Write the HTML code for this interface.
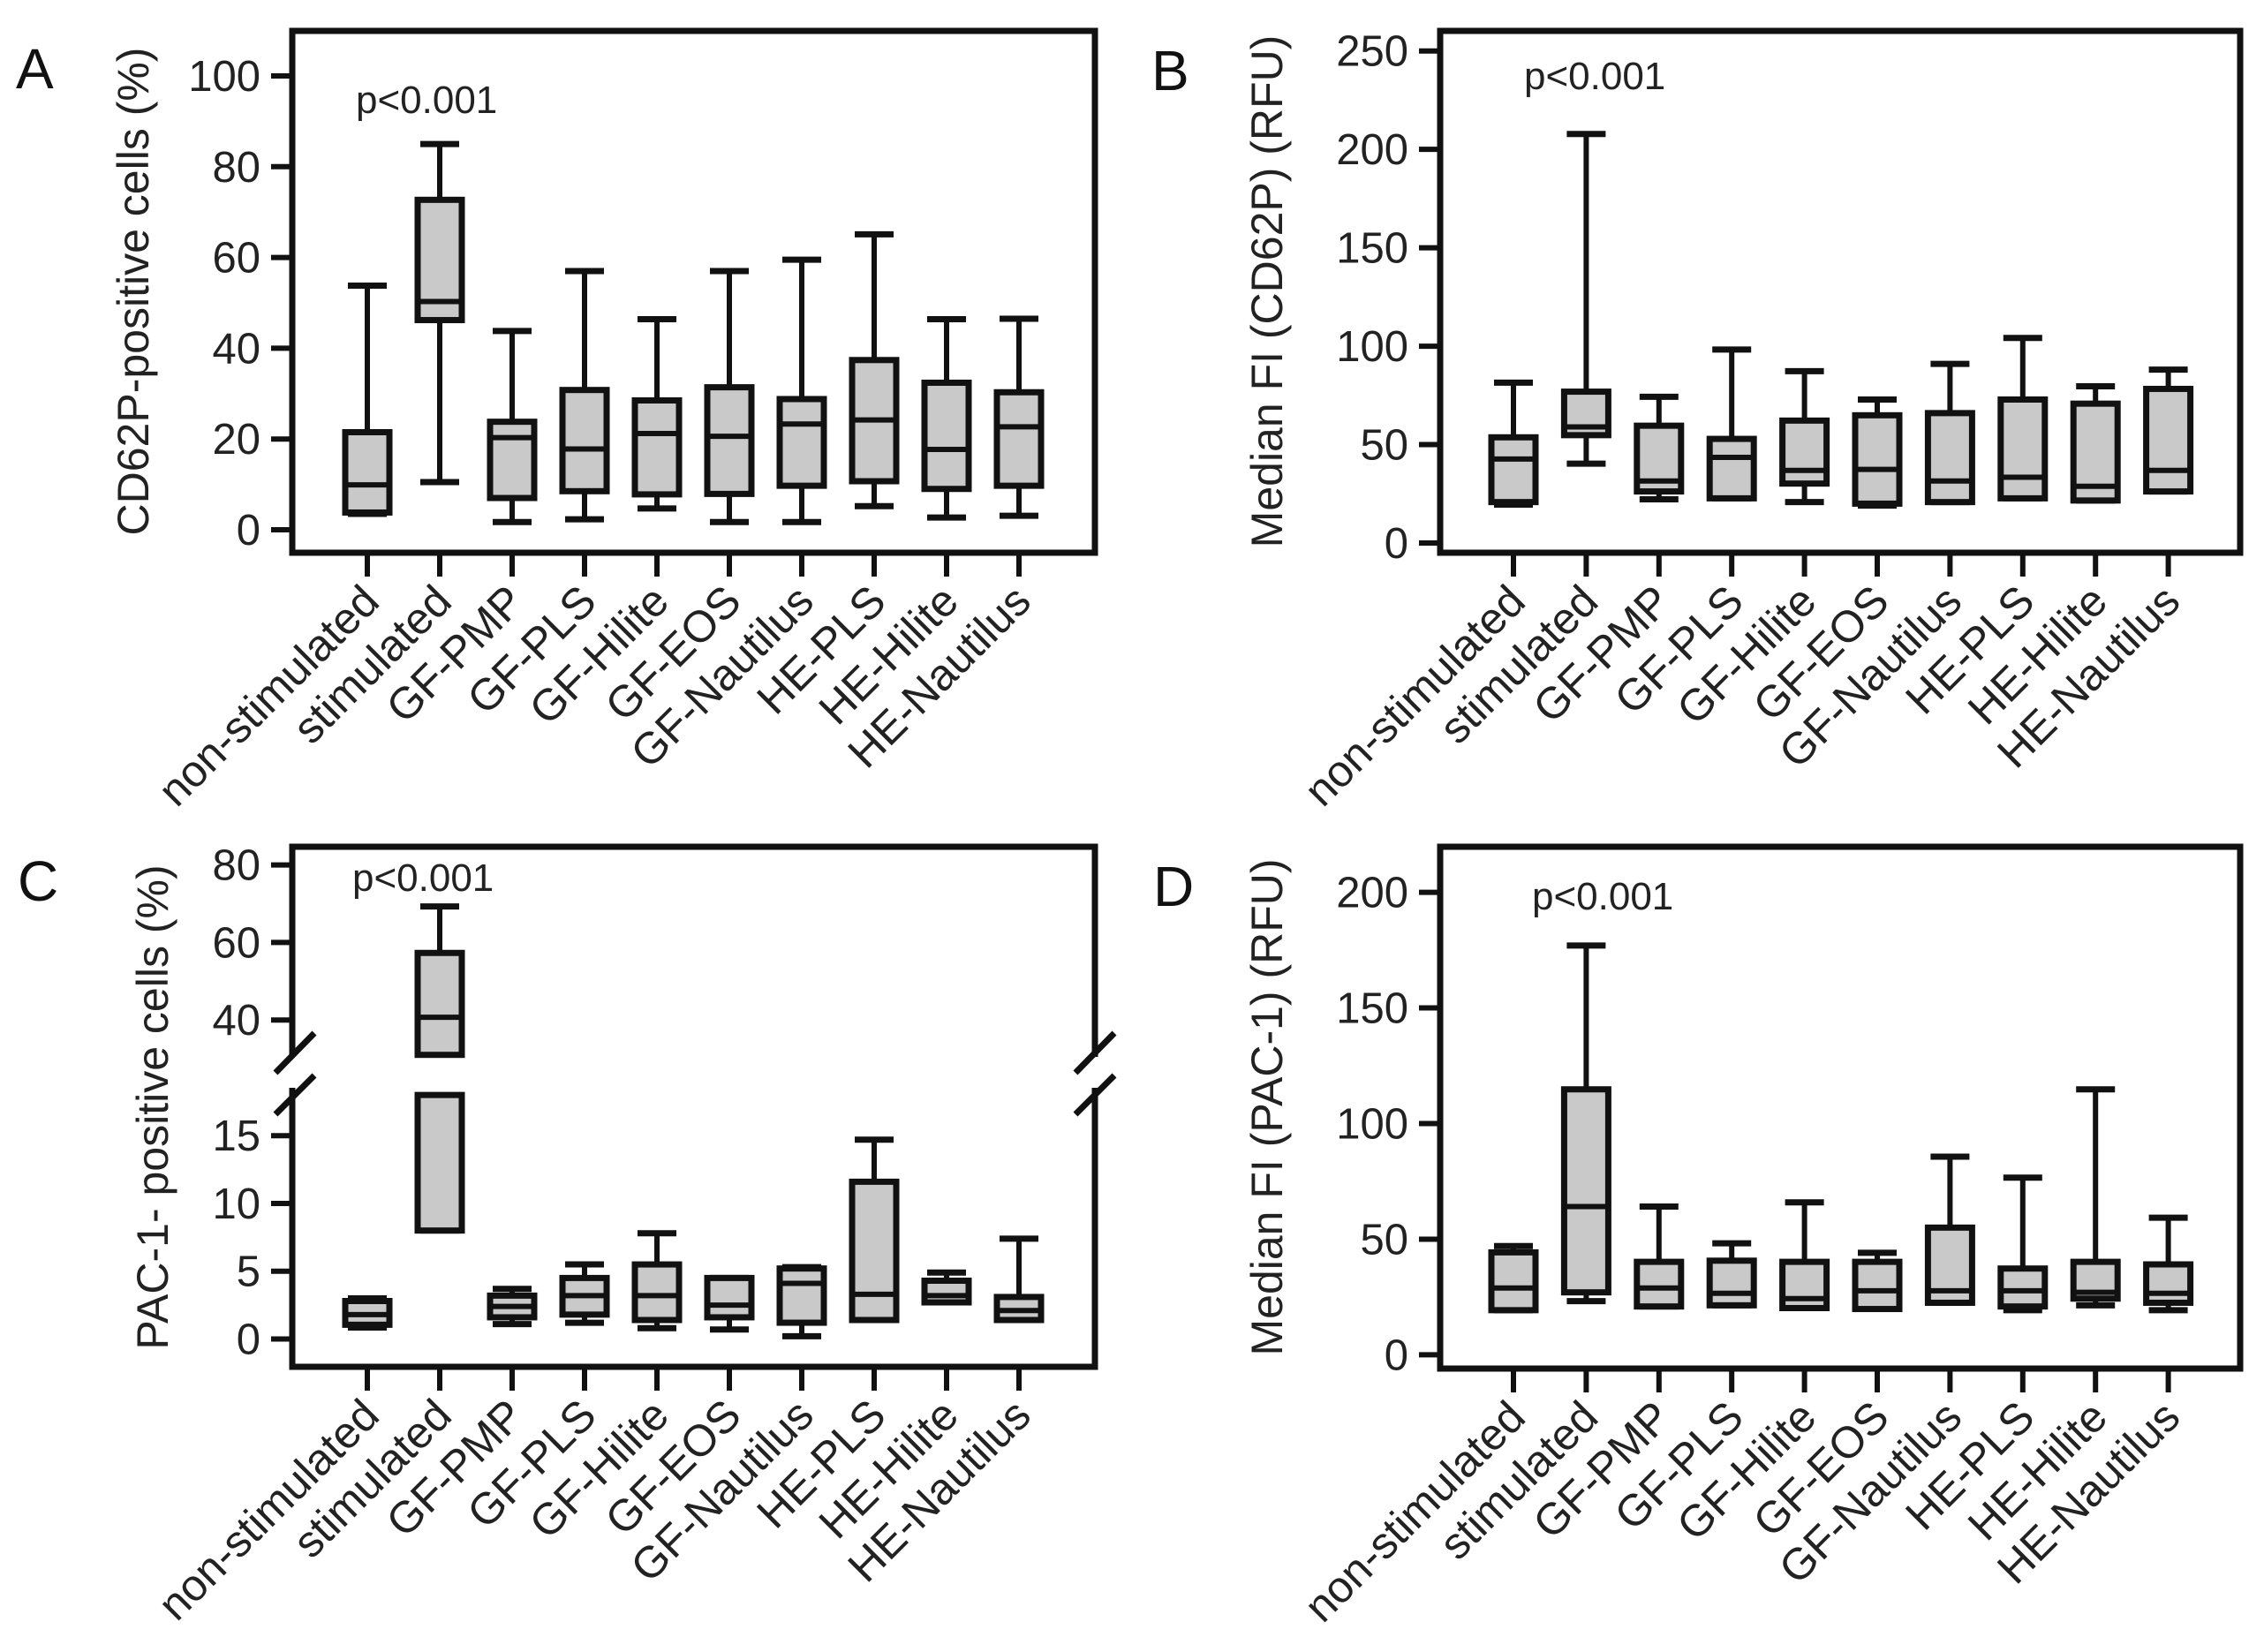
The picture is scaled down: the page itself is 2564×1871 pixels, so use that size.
<!DOCTYPE html>
<html><head><meta charset="utf-8"><style>
html,body{margin:0;padding:0;background:#fff;}
svg{display:block;font-family:"Liberation Sans",Arial,sans-serif;}
</style></head><body>
<svg id="fig" width="2564" height="1871" viewBox="0 0 2564 1871" xmlns="http://www.w3.org/2000/svg"></svg>
<script>
const categories=["non-stimulated","stimulated","GF-PMP","GF-PLS","GF-Hilite","GF-EOS","GF-Nautilus","HE-PLS","HE-Hilite","HE-Nautilus"];
// Panel A: CD62P-positive cells (%)
const aMin=[3.5,10.5,1.7,2.3,4.7,1.7,1.7,5.2,2.7,3.1];
const aQ1=[3.8,46.2,7,8.5,7.8,7.9,9.7,10.7,9,9.7];
const aMed=[9.9,50.3,20.3,17.8,21.2,20.6,23.3,24.2,17.7,22.7];
const aQ3=[21.5,72.7,23.8,30.8,28.5,31.4,28.8,37.4,32.4,30.3];
const aMax=[53.8,85,43.8,57,46.4,57,59.5,65.1,46.4,46.5];
const aTicks=[0,20,40,60,80,100];
// Panel B: Median FI (CD62P)
const bMin=[19.5,40.3,22.2,22.7,20.8,19,20.8,22.7,21.6,26.2];
const bQ1=[20.8,54.8,26.2,22.7,30.2,20,20.8,22.7,21.6,26.2];
const bMed=[42.7,59,31.5,43.5,36.9,37.4,31.5,33.4,28.8,36.9];
const bQ3=[53.7,76.9,59.6,52.9,62.2,64.9,66,72.9,70.8,78.3];
const bMax=[81.5,207.8,74.3,98.3,87.3,72.9,91,104.2,79.6,88.1];
const bTicks=[0,50,100,150,200,250];
// Panel C: PAC-1-positive cells (%)
const cMin=[0.85,8,1.1,1.2,0.8,0.7,0.2,1.4,2.7,1.4];
const cQ1=[1.05,8,1.6,1.8,1.4,1.6,1.2,1.4,2.7,1.4];
const cMed=[1.8,40.7,2.4,3.2,3.2,2.5,4.1,3.3,3.2,2.1];
const cQ3=[2.8,57.3,3.2,4.5,5.5,4.5,5.2,11.6,4.3,3.1];
const cMax=[3.0,69.3,3.7,5.5,7.8,4.5,5.3,14.7,4.9,7.4];
const cTicksLow=[0,5,10,15];
const cTicksHigh=[40,60,80];
// Panel D: Median FI (PAC-1)
const dMin=[19.3,23.2,20.9,21.4,20.2,19.8,22.5,19.3,21.4,19.3];
const dQ1=[19.3,27,20.9,21.4,20.2,19.8,22.5,20.9,24.3,22.5];
const dMed=[28.9,64.1,28.9,26.6,24.3,27.7,27.7,27.7,27,26.6];
const dQ3=[44.3,114.8,40.2,40.7,40.2,40.2,55,37.3,40.2,39.1];
const dMax=[47,177,64.1,48.2,65.9,44.1,85.7,76.6,114.8,59.3];
const dTicks=[0,50,100,150,200];

const NS="http://www.w3.org/2000/svg";
const svg=document.getElementById('fig');
function mk(tag,attrs,parent){const e=document.createElementNS(NS,tag);for(const k in attrs)e.setAttribute(k,attrs[k]);(parent||svg).appendChild(e);return e;}

function drawPanel(p){
  const g=mk('g',{});
  
  
  const fr=mk('path',{d:p.framePath,fill:'none',stroke:'#111','stroke-width':7,'stroke-linejoin':'miter'},g);
  
  
  p.ticks.forEach(t=>{
    const y=p.segs.find(s=>t.v>=s.lo&&t.v<=s.hi).map(t.v);
    const l=mk('line',{x1:p.x0-24,x2:p.x0,y1:y,y2:y,stroke:'#111','stroke-width':6},g);
    
    
    const tx=mk('text',{x:p.x0-36,y:y+17,'text-anchor':'end','font-size':49,fill:'#222'},g);
    tx.textContent=t.v;
    
    
  });
  const yt=mk('text',{x:0,y:0,transform:`translate(${p.titleX},${p.titleY}) rotate(-90)`,'text-anchor':'middle','font-size':50,fill:'#222'},g);
  yt.textContent=p.title;
  
  
  const pl=mk('text',{x:p.letterX,y:p.letterY,'font-size':64,fill:'#111'},g);
  pl.textContent=p.id;
  
  
  const pv=mk('text',{x:p.pX,y:p.pY,'font-size':44,fill:'#222'},g);
  pv.textContent='p<0.001';
  
  
  const bw=50,cw=44;
  categories.forEach((c,i)=>{
    const cx=p.cx0+i*p.dx;
    const bg=mk('g',{},g);
    
    
    const mn=p.min[i],q1=p.q1[i],md=p.med[i],q3=p.q3[i],mx=p.max[i];
    p.segs.forEach(s=>{
      [[q3,mx],[mn,q1]].forEach(([a,b])=>{
        const lo=Math.max(a,s.lo),hi=Math.min(b,s.hi);
        if(hi>lo){const w=mk('line',{x1:cx,x2:cx,y1:s.map(lo),y2:s.map(hi),stroke:'#111','stroke-width':6},bg);
          
          }
      });
      [mx,mn].forEach(v=>{
        if(v>=s.lo&&v<=s.hi){const cap=mk('line',{x1:cx-cw/2,x2:cx+cw/2,y1:s.map(v),y2:s.map(v),stroke:'#111','stroke-width':7},bg);
          
          }
      });
      const lo=Math.max(q1,s.lo),hi=Math.min(q3,s.hi);
      if(hi>lo){
        const r=mk('rect',{x:cx-bw/2,y:s.map(hi),width:bw,height:s.map(lo)-s.map(hi),fill:'#c9c9c9',stroke:'#111','stroke-width':7},bg);
        
        
      }
      if(md>=s.lo&&md<=s.hi){
        const m=mk('line',{x1:cx-bw/2,x2:cx+bw/2,y1:s.map(md),y2:s.map(md),stroke:'#111','stroke-width':6},bg);
        
        
      }
    });
    const xt=mk('line',{x1:cx,x2:cx,y1:p.yb,y2:p.yb+27,stroke:'#111','stroke-width':6},g);
    
    
    const lx=cx+16,ly=p.yb+58;
    const lt=mk('text',{x:lx,y:ly,transform:`rotate(-45 ${lx} ${ly})`,'text-anchor':'end','font-size':50,fill:'#222'},g);
    lt.textContent=c;
    
    
  });
}
function lin(v0,y0,v1,y1){return v=>y0+(v-v0)*(y1-y0)/(v1-v0);}
function rectPath(x0,x1,y0,y1){return `M${x0},${y0}H${x1}V${y1}H${x0}Z`;}

const AX0=331,AX1=1240,BX0=1631,BX1=2537;
drawPanel({id:'A',x0:AX0,yb:626,framePath:rectPath(AX0,AX1,35,626),
  segs:[{lo:-10,hi:200,map:lin(0,600,100,86)}],ticks:aTicks.map(v=>({v})),
  title:'CD62P-positive cells (%)',titleX:168,titleY:330,letterX:18,letterY:100,pX:403,pY:128,
  cx0:416,dx:82,min:aMin,q1:aQ1,med:aMed,q3:aQ3,max:aMax});
drawPanel({id:'B',x0:BX0,yb:626,framePath:rectPath(BX0,BX1,35,626),
  segs:[{lo:-10,hi:400,map:lin(0,615,250,57.7)}],ticks:bTicks.map(v=>({v})),
  title:'Median FI (CD62P) (RFU)',titleX:1452,titleY:330,letterX:1304,letterY:102,pX:1726,pY:101,
  cx0:1714,dx:82.4,min:bMin,q1:bQ1,med:bMed,q3:bQ3,max:bMax});
const cTop=959,cBot=1548;
drawPanel({id:'C',x0:AX0,yb:cBot,
  framePath:`M${AX0},1197V${cTop}H${AX1}V1197 M${AX1},1232V${cBot}H${AX0}V1232`+
    ` M312,1215L356,1170 M312,1262L356,1218 M1218,1215L1262,1170 M1218,1262L1262,1218`,
  segs:[{lo:-10,hi:18,map:lin(0,1516.5,15,1286.2)},{lo:31,hi:200,map:lin(40,1155.2,80,979.6)}],
  ticks:cTicksLow.concat(cTicksHigh).map(v=>({v})),
  title:'PAC-1- positive cells (%)',titleX:190,titleY:1254,letterX:20,letterY:1020,pX:399,pY:1009,
  cx0:416,dx:82,min:cMin,q1:cQ1,med:cMed,q3:cQ3,max:cMax});
drawPanel({id:'D',x0:BX0,yb:1550,framePath:rectPath(BX0,BX1,cTop,1550),
  segs:[{lo:-10,hi:400,map:lin(0,1534.4,200,1010.6)}],ticks:dTicks.map(v=>({v})),
  title:'Median FI (PAC-1) (RFU)',titleX:1452,titleY:1254,letterX:1306,letterY:1026,pX:1735,pY:1030,
  cx0:1714,dx:82.4,min:dMin,q1:dQ1,med:dMed,q3:dQ3,max:dMax});
</script>
</body></html>
